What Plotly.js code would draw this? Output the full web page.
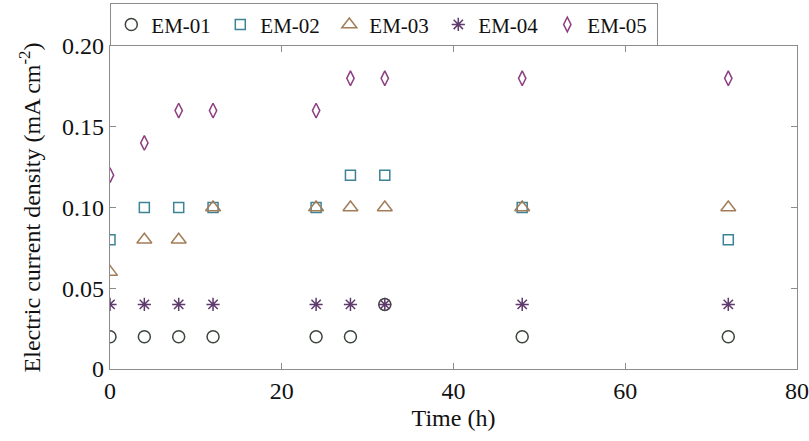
<!DOCTYPE html>
<html><head><meta charset="utf-8">
<script src="https://cdn.plot.ly/plotly-3.0.1.min.js"></script>
<style>html,body{margin:0;padding:0;background:#fff}#chart{width:809px;height:441px}</style>
</head><body><div id="chart"></div>
<script>
const time = [0, 4, 8, 12, 24, 28, 32, 48, 72];
const em01 = [0.02, 0.02, 0.02, 0.02, 0.02, 0.02, 0.04, 0.02, 0.02];
const em02 = [0.08, 0.10, 0.10, 0.10, 0.10, 0.12, 0.12, 0.10, 0.08];
const em03 = [0.06, 0.08, 0.08, 0.10, 0.10, 0.10, 0.10, 0.10, 0.10];
const em04 = [0.04, 0.04, 0.04, 0.04, 0.04, 0.04, 0.04, 0.04, 0.04];
const em05 = [0.12, 0.14, 0.16, 0.16, 0.16, 0.18, 0.18, 0.18, 0.18];
const seriesNames = ['EM-01', 'EM-02', 'EM-03', 'EM-04', 'EM-05'];
const xTicks = [0, 20, 40, 60, 80];
const yTicks = [0, 0.05, 0.10, 0.15, 0.20];
const yTickText = ['0', '0.05', '0.10', '0.15', '0.20'];

const styles = [
  {symbol: 'circle-open', color: '#3c463c', size: 12},
  {symbol: 'square-open', color: '#3d8295', size: 10},
  {symbol: 'triangle-up-open', color: '#a27d58', size: 13},
  {symbol: 'asterisk-open', color: '#5e3b6c', size: 11},
  {symbol: 'diamond-tall-open', color: '#8e3f80', size: 10.5}
];
const ys = [em01, em02, em03, em04, em05];
const traces = ys.map((y, i) => ({
  x: time, y: y, name: seriesNames[i], type: 'scatter', mode: 'markers',
  marker: {symbol: styles[i].symbol, size: styles[i].size, color: styles[i].color,
           line: {color: styles[i].color, width: 1.5}}
}));

const fam = 'Liberation Serif';
const tickFont = {family: fam, size: 24, color: '#111'};
const titleFont = {family: fam, size: 24, color: '#111'};
const legendFont = {family: fam, size: 21, color: '#111'};
const axisCommon = {
  showline: true, linecolor: '#8c8c8c', linewidth: 1.3, mirror: 'ticks',
  ticks: 'inside', ticklen: 6, tickcolor: '#8c8c8c', tickwidth: 1.3,
  showgrid: false, zeroline: false, tickfont: tickFont
};
const layout = {
  width: 809, height: 441,
  margin: {l: 110, r: 12, t: 46, b: 72, autoexpand: false},
  paper_bgcolor: '#fff', plot_bgcolor: '#fff',
  font: tickFont,
  showlegend: true,
  legend: {orientation: 'h', x: 0, xanchor: 'left', y: 1, yanchor: 'bottom',
           bordercolor: '#8c8c8c', borderwidth: 1.3, font: legendFont,
           itemwidth: 30, entrywidth: 64, tracegroupgap: 0},
  xaxis: Object.assign({}, axisCommon, {range: [0, 80], tickvals: xTicks,
    title: {text: 'Time (h)', font: titleFont, standoff: 6}}),
  yaxis: Object.assign({}, axisCommon, {range: [0, 0.2], tickvals: yTicks, ticktext: yTickText,
    title: {text: 'Electric current density (mA cm<sup>-2</sup>)', font: titleFont, standoff: 14}})
};
Plotly.newPlot('chart', traces, layout, {displayModeBar: false, staticPlot: true});
</script></body></html>
